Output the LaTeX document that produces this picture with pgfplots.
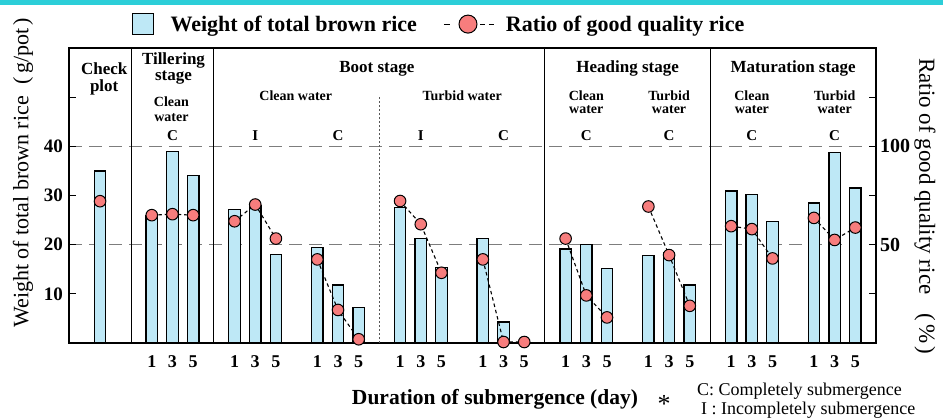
\documentclass[border=0pt]{standalone}
\usepackage{pgfplots}
\pgfplotsset{compat=1.18}
\usepackage{fontspec}
\setmainfont{Liberation Serif}
\definecolor{barblue}{RGB}{190,232,246}
\definecolor{dotred}{RGB}{247,125,125}
\definecolor{topcyan}{RGB}{44,206,216}
\definecolor{gridgray}{RGB}{125,125,125}
\newcommand\fs[1]{\fontsize{#1}{#1}\selectfont}
\tikzset{
  hdA/.style={font=\fs{17}\bfseries, inner sep=0pt},
  hdB/.style={font=\fs{14}\bfseries, inner sep=0pt},
  hdC/.style={font=\fs{15}\bfseries, inner sep=0pt},
}
\begin{document}
\begin{tikzpicture}
\useasboundingbox (0,0) rectangle (943pt,420pt);
\fill[topcyan] (0,415pt) rectangle (943pt,420pt);
\pgfplotsset{
  base/.style={
    at={(69pt,77pt)}, anchor=south west,
    scale only axis, width=807pt, height=295pt,
    xmin=-4, xmax=35,
    major tick length=7pt,
    tick style={black, line width=1pt},
  },
}
\begin{axis}[base,
  ymin=0, ymax=60,
  axis line style={line width=1.3pt},
  xtick={0,1,2,4,5,6,8,9,10,12,13,14,16,17,18,20,21,22,24,25,26,28,29,30,32,33,34},
  xticklabels={1,3,5,1,3,5,1,3,5,1,3,5,1,3,5,1,3,5,1,3,5,1,3,5,1,3,5},
  xtick style={draw=none},
  xticklabel style={font=\fs{18}\bfseries, anchor=base, inner sep=0pt, yshift=-25pt},
  ytick={10,20,30,40,50},
  yticklabels={10,20,30,40,},
  ytick pos=left,
  ytick align=inside,
  yticklabel style={font=\fs{19}\bfseries, anchor=east, inner sep=0pt, xshift=-6pt},
  extra y ticks={20,40},
  extra y tick labels={},
  extra y tick style={ymajorgrids=true},
  major grid style={gridgray, line width=1.4pt, dash pattern=on 13pt off 7pt},
  clip=false,
]
\addplot[ybar, bar width=11.5pt, fill=barblue, draw=black, line width=1.3pt] coordinates {
(-2.5,35.0)
(0,25.8) (1,39.0) (2,34.1)
(4,27.2) (5,28.0) (6,18.0)
(8,19.4) (9,11.8) (10,7.2)
(12,27.5) (13,21.3) (14,15.4)
(16,21.2) (17,4.3)
(20,19.1) (21,20.0) (22,15.2)
(24,17.8) (25,18.3) (26,11.8)
(28,30.9) (29,30.2) (30,24.7)
(32,28.5) (33,38.7) (34,31.5)
};
% group separators
\draw[black, line width=0.9pt] (axis cs:-1,0) -- (axis cs:-1,60);
\draw[black, line width=0.9pt] (axis cs:3,0) -- (axis cs:3,60);
\draw[black, line width=0.9pt] (axis cs:19,0) -- (axis cs:19,60);
\draw[black, line width=0.9pt] (axis cs:27,0) -- (axis cs:27,60);
\draw[gridgray!70!black, line width=0.9pt, dash pattern=on 2pt off 2pt] (axis cs:11,0) -- (axis cs:11,50);
% header texts
\node[hdA] at (axis cs:-2.3,55.84) {Check};
\node[hdA] at (axis cs:-2.3,52.0) {plot};
\node[hdA] at (axis cs:1.05,57.46) {Tillering};
\node[hdA] at (axis cs:1.05,53.9) {stage};
\node[hdB] at (axis cs:0.95,49.14) {Clean};
\node[hdB] at (axis cs:0.95,45.8) {water};
\node[hdA] at (axis cs:10.88,55.84) {Boot stage};
\node[hdB] at (axis cs:6.96,50.36) {Clean water};
\node[hdB] at (axis cs:15.0,50.36) {Turbid water};
\node[hdA] at (axis cs:23,55.84) {Heading stage};
\node[hdB] at (axis cs:21,50.36) {Clean};
\node[hdB] at (axis cs:21,47.4) {water};
\node[hdB] at (axis cs:25,50.36) {Turbid};
\node[hdB] at (axis cs:25,47.4) {water};
\node[hdA] at (axis cs:31,55.84) {Maturation stage};
\node[hdB] at (axis cs:29,50.36) {Clean};
\node[hdB] at (axis cs:29,47.4) {water};
\node[hdB] at (axis cs:33,50.36) {Turbid};
\node[hdB] at (axis cs:33,47.4) {water};
\node[hdC] at (axis cs:1,42.23) {C};
\node[hdC] at (axis cs:5,42.23) {I};
\node[hdC] at (axis cs:9,42.23) {C};
\node[hdC] at (axis cs:13,42.23) {I};
\node[hdC] at (axis cs:17,42.23) {C};
\node[hdC] at (axis cs:21,42.23) {C};
\node[hdC] at (axis cs:25,42.23) {C};
\node[hdC] at (axis cs:29,42.23) {C};
\node[hdC] at (axis cs:33,42.23) {C};
\end{axis}
\begin{axis}[base,
  ymin=0, ymax=150,
  axis x line=none,
  axis y line*=right,
  axis line style={line width=1.3pt},
  ytick={25,50,75,100,125},
  yticklabels={,50,,100,},
  ytick align=inside,
  yticklabel style={font=\fs{20}\bfseries, anchor=west, inner sep=0pt, xshift=4pt},
  clip=false,
  legend style={at={(axis description cs:0.078,1.081)}, anchor=west, draw=none, fill=none,
    legend columns=2, inner sep=0pt, outer sep=0pt, column sep=0pt,
    nodes={inner sep=0pt, font=\fs{22}\bfseries}},
]
\addlegendimage{legend image code/.code={
  \path[draw=none] (0pt,0pt) -- (38pt,0pt);
  \draw[solid, fill=barblue, draw=black, line width=1.2pt] (0pt,-10.5pt) rectangle (21pt,10.5pt);}}
\addlegendentry{Weight of total brown rice}
\addplot[black, line width=1.1pt, dash pattern=on 3.5pt off 3pt,
  mark=*, mark size=5.8pt, mark options={solid, fill=dotred, draw=black, line width=1pt},
  unbounded coords=jump,
  legend image code/.code={
    \path[draw=none] (0pt,0pt) -- (89pt,0pt);
    \draw[solid, line width=1.1pt] (27pt,0pt) -- (33pt,0pt) (63pt,0pt) -- (68pt,0pt) (72pt,0pt) -- (77pt,0pt);
    \draw[solid, fill=dotred, draw=black, line width=1pt] (51pt,0pt) circle (9pt);}
] coordinates {
(-2.5,72.1) (-1.5,nan)
(0,65) (1,65.5) (2,65) (3,nan)
(4,61.9) (5,70.4) (6,53.1) (7,nan)
(8,42.5) (9,16.8) (10,1.9) (11,nan)
(12,72.2) (13,60.4) (14,35.7) (15,nan)
(16,42.5) (17,0.5) (18,0.5) (19,nan)
(20,53.1) (21,24.2) (22,13) (23,nan)
(24,69.4) (25,44.7) (26,18.9) (27,nan)
(28,59.4) (29,57.9) (30,43) (31,nan)
(32,63.6) (33,52.4) (34,58.7)
};
\addlegendentry{Ratio of good quality rice}
\end{axis}
\node[font=\fs{21.5}\bfseries] at (495pt,21pt) {Duration of submergence (day)};
\node[rotate=90, font=\fs{22}] at (23pt,247pt) {Weight of total brown rice\hspace{12pt}(\hspace{3pt}g/pot\hspace{3pt})};
\node[rotate=-90, font=\fs{23}] at (925pt,214pt) {Ratio of good quality rice\hspace{19pt}(\hspace{3pt}\%\hspace{3pt})};
\node[anchor=base west, font=\fs{18}, inner sep=0pt] at (697pt,24pt) {C: Completely submergence};
\node[anchor=base west, font=\fs{18}, inner sep=0pt] at (701pt,5pt) {I : Incompletely submergence};
\node[font=\fs{26}, inner sep=0pt] at (664pt,16pt) {*};
\end{tikzpicture}
\end{document}
